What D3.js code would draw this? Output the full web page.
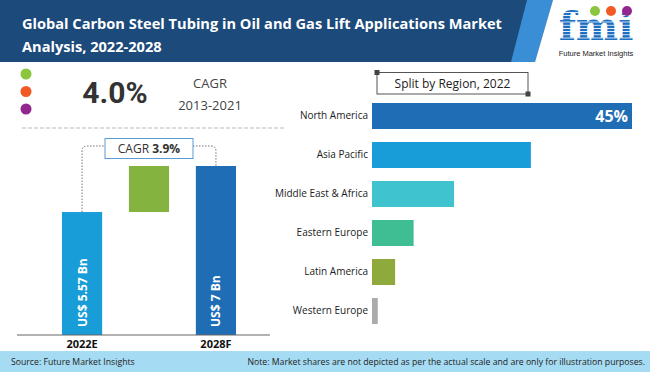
<!DOCTYPE html>
<html>
<head>
<meta charset="utf-8">
<script src="https://d3js.org/d3.v7.min.js"></script>
<style>
  body { margin: 0; background: #fff; }
  svg { display: block; font-family: "Open Sans", sans-serif; }
</style>
</head>
<body>
<svg id="chart" width="650" height="372"></svg>
<script>
// title + notes
const titleLines = ['Global Carbon Steel Tubing in Oil and Gas Lift Applications Market', 'Analysis, 2022-2028'];
const sourceText = 'Source: Future Market Insights';
const noteText = 'Note: Market shares are not depicted as per the actual scale and are only for illustration purposes.';

// historic cagr
const histCagr = '4.0%';
const histPeriod = '2013-2021';
const dotColors = ['#8cc63f', '#f15a24', '#92278f'];

// market size
const years = ['2022E', '2028F'];
const marketValues = [5.57, 7];
const valueLabels = ['US$ 5.57 Bn', 'US$ 7 Bn'];
const forecastCagr = '3.9%';

// region split
const regions = ['North America', 'Asia Pacific', 'Middle East & Africa', 'Eastern Europe', 'Latin America', 'Western Europe'];
const shares = [45, 27.5, 14.2, 7.2, 4.0, 1.0];
const regionColors = ['#1f6db5', '#189dd8', '#3ec3cf', '#3fbd93', '#8faa3c', '#ababab'];

const svg = d3.select('#chart');

// ---- header ----
svg.append('rect').attr('x', 0).attr('y', 0).attr('width', 650).attr('height', 62).attr('fill', '#1c4a7a');
svg.append('polygon').attr('points', '527,0 553,0 535,62 511,62').attr('fill', '#3a8ed6');
svg.append('polygon').attr('points', '553,0 650,0 650,62 535,62').attr('fill', '#fff');

svg.append('g').selectAll('text')
  .data(titleLines)
  .join('text')
  .attr('x', 22)
  .attr('y', (d, i) => 29 + i * 23)
  .attr('fill', '#fff')
  .attr('font-size', 14.6)
  .attr('font-weight', 700)
  .text(d => d);

// fmi logo
const defs = svg.append('defs');
const pat = defs.append('pattern').attr('id', 'stripes').attr('patternUnits', 'userSpaceOnUse')
  .attr('width', 10).attr('height', 3.2);
pat.append('rect').attr('width', 10).attr('height', 3.2).attr('fill', '#fff');
pat.append('rect').attr('width', 10).attr('height', 2.4).attr('fill', '#1f6fc0');

svg.append('text')
  .attr('x', 596).attr('y', 40)
  .attr('text-anchor', 'middle')
  .attr('font-family', 'DejaVu Serif, serif')
  .attr('font-weight', 700)
  .attr('font-size', 40)
  .attr('fill', 'url(#stripes)')
  .text('fmi');
svg.append('g').selectAll('circle')
  .data([[595, '#8cc63f'], [611, '#f15a24'], [627, '#92278f']])
  .join('circle')
  .attr('cx', d => d[0]).attr('cy', 11).attr('r', 5)
  .attr('fill', d => d[1]);
svg.append('text')
  .attr('x', 596).attr('y', 56)
  .attr('text-anchor', 'middle')
  .attr('font-family', 'Liberation Sans, sans-serif')
  .attr('font-size', 7.5)
  .attr('fill', '#222')
  .text('Future Market Insights');

// ---- historic cagr block ----
svg.append('g').selectAll('circle')
  .data(dotColors)
  .join('circle')
  .attr('cx', 26)
  .attr('cy', (d, i) => 74 + i * 17.5)
  .attr('r', 5.5)
  .attr('fill', d => d);

svg.append('text')
  .attr('x', 115).attr('y', 103)
  .attr('text-anchor', 'middle')
  .attr('font-family', 'Roboto, sans-serif')
  .attr('font-weight', 700)
  .attr('font-size', 30)
  .attr('fill', '#333')
  .text(histCagr);
svg.append('text')
  .attr('x', 210).attr('y', 88)
  .attr('text-anchor', 'middle')
  .attr('font-size', 13)
  .attr('fill', '#444')
  .text('CAGR');
svg.append('text')
  .attr('x', 210).attr('y', 110)
  .attr('text-anchor', 'middle')
  .attr('font-size', 13)
  .attr('fill', '#444')
  .text(histPeriod);

svg.append('line')
  .attr('x1', 22).attr('x2', 284).attr('y1', 128).attr('y2', 128)
  .attr('stroke', '#bbb').attr('stroke-dasharray', '4,2');

// ---- market size bars ----
const steps = [years[0], 'growth', years[1]];
const x = d3.scaleBand().domain(steps).range([28.5, 269.5]).paddingInner(0.4).paddingOuter(0.5);
const y = d3.scaleLinear().domain([1.75, 7]).range([335, 166]);

const barData = [
  { key: years[0], y0: 1.75, y1: marketValues[0], color: '#189dd8' },
  { key: 'growth', y0: marketValues[0], y1: marketValues[1], color: '#84b340' },
  { key: years[1], y0: 1.75, y1: marketValues[1], color: '#1f6db5' }
];

const left = svg.append('g');
left.selectAll('rect')
  .data(barData)
  .join('rect')
  .attr('x', d => x(d.key))
  .attr('y', d => y(d.y1))
  .attr('width', x.bandwidth())
  .attr('height', d => y(d.y0) - y(d.y1))
  .attr('fill', d => d.color);

left.selectAll('text.val')
  .data(years)
  .join('text')
  .attr('class', 'val')
  .attr('transform', d => `translate(${x(d) + x.bandwidth() / 2 + 4.5},${y(1.75) - 8}) rotate(-90)`)
  .attr('fill', '#fff')
  .attr('font-weight', 700)
  .attr('font-size', 12)
  .text((d, i) => valueLabels[i]);

// baseline + year labels
svg.append('line')
  .attr('x1', 17).attr('x2', 270).attr('y1', y(1.75)).attr('y2', y(1.75))
  .attr('stroke', '#666').attr('stroke-width', 1.2);
const axis = svg.append('g')
  .attr('transform', `translate(0,${y(1.75)})`)
  .call(d3.axisBottom(x).tickValues(years).tickSize(0).tickPadding(5));
axis.select('.domain').remove();
axis.selectAll('text')
  .attr('font-family', 'Open Sans, sans-serif')
  .attr('font-size', 11)
  .attr('font-weight', 700)
  .attr('fill', '#111');

// cagr bracket
const bx1 = x(years[0]) + x.bandwidth() / 2;
const bx2 = x(years[1]) + x.bandwidth() / 2;
const bracket = d3.path();
bracket.moveTo(bx1, y(marketValues[0]));
bracket.lineTo(bx1, 151);
bracket.quadraticCurveTo(bx1, 146, bx1 + 5, 146);
bracket.lineTo(105, 146);
bracket.moveTo(193, 146);
bracket.lineTo(bx2 - 5, 146);
bracket.quadraticCurveTo(bx2, 146, bx2, 151);
bracket.lineTo(bx2, y(marketValues[1]));
svg.append('path')
  .attr('d', bracket.toString())
  .attr('fill', 'none')
  .attr('stroke', '#777')
  .attr('stroke-dasharray', '1.5,1.5');

svg.append('rect')
  .attr('x', 105).attr('y', 138.5).attr('width', 88).attr('height', 20)
  .attr('fill', '#fff').attr('stroke', '#5b9bd5');
const cagrText = svg.append('text')
  .attr('x', 149).attr('y', 153)
  .attr('text-anchor', 'middle')
  .attr('font-size', 12)
  .attr('fill', '#333');
cagrText.append('tspan').text('CAGR ');
cagrText.append('tspan').attr('font-weight', 700).text(forecastCagr);

// ---- region split ----
const xr = d3.scaleLinear().domain([0, 45]).range([372, 632]);
const yr = d3.scaleBand().domain(regions).range([96.5, 330.5]).paddingInner(1 / 3).paddingOuter(1 / 6);

svg.append('rect')
  .attr('x', 377).attr('y', 72.5).attr('width', 151).attr('height', 21.5)
  .attr('fill', '#fff').attr('stroke', '#555');
svg.append('g').selectAll('rect')
  .data([[377, 72.5], [528, 94]])
  .join('rect')
  .attr('x', d => d[0] - 2.5).attr('y', d => d[1] - 2.5)
  .attr('width', 5).attr('height', 5)
  .attr('fill', '#444');
svg.append('text')
  .attr('x', 452.5).attr('y', 88)
  .attr('text-anchor', 'middle')
  .attr('font-size', 12)
  .attr('fill', '#222')
  .text('Split by Region, 2022');

const right = svg.append('g');
right.selectAll('rect')
  .data(regions)
  .join('rect')
  .attr('x', xr(0))
  .attr('y', d => yr(d))
  .attr('width', (d, i) => xr(shares[i]) - xr(0))
  .attr('height', yr.bandwidth())
  .attr('fill', (d, i) => regionColors[i]);

const yAxis = right.append('g')
  .attr('transform', `translate(${xr(0)},0)`)
  .call(d3.axisLeft(yr).tickSize(0).tickPadding(4));
yAxis.select('.domain').remove();
yAxis.selectAll('text')
  .attr('font-family', 'Open Sans, sans-serif')
  .attr('font-size', 10)
  .attr('fill', '#222');

right.append('text')
  .attr('x', xr(shares[0]) - 4)
  .attr('y', yr(regions[0]) + yr.bandwidth() / 2 + 6)
  .attr('text-anchor', 'end')
  .attr('fill', '#fff')
  .attr('font-weight', 700)
  .attr('font-size', 16)
  .text(shares[0] + '%');

// ---- footer ----
svg.append('rect').attr('x', 0).attr('y', 351).attr('width', 650).attr('height', 21).attr('fill', '#a6dcf3');
svg.append('text')
  .attr('x', 11).attr('y', 365)
  .attr('font-size', 8.7)
  .attr('fill', '#222')
  .text(sourceText);
svg.append('text')
  .attr('x', 645).attr('y', 365)
  .attr('text-anchor', 'end')
  .attr('font-size', 8.7)
  .attr('fill', '#222')
  .text(noteText);
</script>
</body>
</html>
